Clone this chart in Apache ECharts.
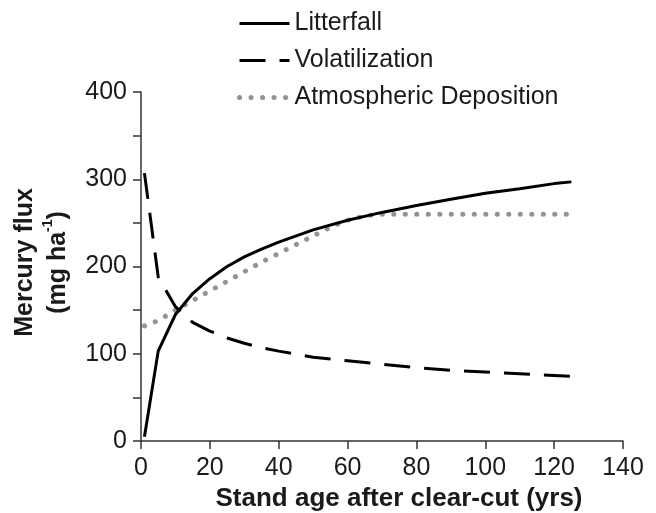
<!DOCTYPE html>
<html>
<head>
<meta charset="utf-8">
<script src="https://cdn.jsdelivr.net/npm/echarts@6/dist/echarts.min.js"></script>
<style>
html,body{margin:0;padding:0;background:#fff}
#main{width:656px;height:513px}
</style>
</head>
<body>
<div id="main"></div>
<script>
// stand age (yrs) and mercury flux (mg/ha)
const ageLitter = [1, 5, 10, 15, 20, 25, 30, 35, 40, 50, 60, 70, 80, 90, 100, 110, 120, 125];
const litterfall = [5, 103, 145, 169, 186, 200, 211, 220, 228, 242, 253, 262, 270, 277, 284, 289, 295, 297];
const ageVolat = [1, 5, 10, 15, 20, 25, 30, 35, 40, 50, 60, 70, 80, 90, 100, 110, 120, 125];
const volatilization = [307, 188, 154, 136, 126, 118, 112, 107, 103, 96, 92, 88, 84, 81, 79, 77, 75, 74];
const ageDep = [1, 5, 10, 15, 20, 25, 30, 35, 40, 45, 50, 55, 60, 65, 70, 80, 90, 100, 110, 120, 125];
const deposition = [132, 138, 150, 161, 172, 183, 194, 205, 215, 225, 235, 245, 253, 258, 260, 260, 260, 260, 260, 260, 260];
const seriesNames = ['Litterfall', 'Volatilization', 'Atmospheric Deposition'];

const pairs = (xs, ys) => xs.map((x, i) => [x, ys[i]]);
const font = 'Liberation Sans, Arial, sans-serif';

const chart = echarts.init(document.getElementById('main'), null, {renderer: 'canvas'});
chart.setOption({
  animation: false,
  textStyle: {fontFamily: font, color: '#1a1a1a'},
  grid: {left: 141, right: 33, top: 92, bottom: 72, outerBoundsMode: 'none'},
  legend: {
    orient: 'vertical', left: 232, top: 6,
    itemWidth: 50, itemHeight: 14, itemGap: 12,
    itemStyle: {color: 'transparent', borderColor: 'transparent', borderWidth: 0},
    lineStyle: {width: 'inherit'},
    textStyle: {fontSize: 25, fontFamily: font, color: '#1a1a1a'},
    data: seriesNames
  },
  xAxis: {
    type: 'value', min: 0, max: 140, interval: 20,
    name: 'Stand age after clear-cut (yrs)', nameLocation: 'middle', nameGap: 45,
    nameTextStyle: {fontSize: 26, fontWeight: 'bold', fontFamily: font, color: '#1a1a1a', padding: [0, 0, 0, 34]},
    axisLine: {lineStyle: {color: '#333', width: 1.5}},
    axisTick: {length: 8, lineStyle: {color: '#333', width: 1.5}},
    axisLabel: {fontSize: 25, margin: 15, color: '#1a1a1a'},
    splitLine: {show: false}
  },
  yAxis: {
    type: 'value', min: 0, max: 400, interval: 50,
    name: 'Mercury flux\n(mg ha{sup|-1})', nameLocation: 'middle', nameGap: 64,
    nameTextStyle: {
      fontSize: 25, fontWeight: 'bold', fontFamily: font, color: '#1a1a1a', lineHeight: 33,
      padding: [0, 0, 0, 8],
      rich: {sup: {fontSize: 14, fontWeight: 'bold', fontFamily: font, verticalAlign: 'top', lineHeight: 33, padding: [0, 0, 12, 0]}}
    },
    axisLine: {show: true, lineStyle: {color: '#333', width: 1.5}},
    axisTick: {show: true, length: 8, lineStyle: {color: '#333', width: 1.5}},
    axisLabel: {fontSize: 25, margin: 14, color: '#1a1a1a', formatter: v => (v % 100 === 0 ? v : '')},
    splitLine: {show: false}
  },
  series: [
    {
      name: seriesNames[0], type: 'line', data: pairs(ageLitter, litterfall),
      symbol: 'none', z: 3,
      lineStyle: {color: '#000', width: 3}, itemStyle: {color: '#000'}
    },
    {
      name: seriesNames[1], type: 'line', data: pairs(ageVolat, volatilization),
      symbol: 'none', z: 3,
      lineStyle: {color: '#000', width: 3, type: [26, 14]}, itemStyle: {color: '#000'}
    },
    {
      name: seriesNames[2], type: 'line', data: pairs(ageDep, deposition),
      symbol: 'none', z: 2,
      lineStyle: {color: '#939393', width: 5, type: [0.1, 11.4], cap: 'round'}, itemStyle: {color: '#939393'}
    }
  ]
});
</script>
</body>
</html>
